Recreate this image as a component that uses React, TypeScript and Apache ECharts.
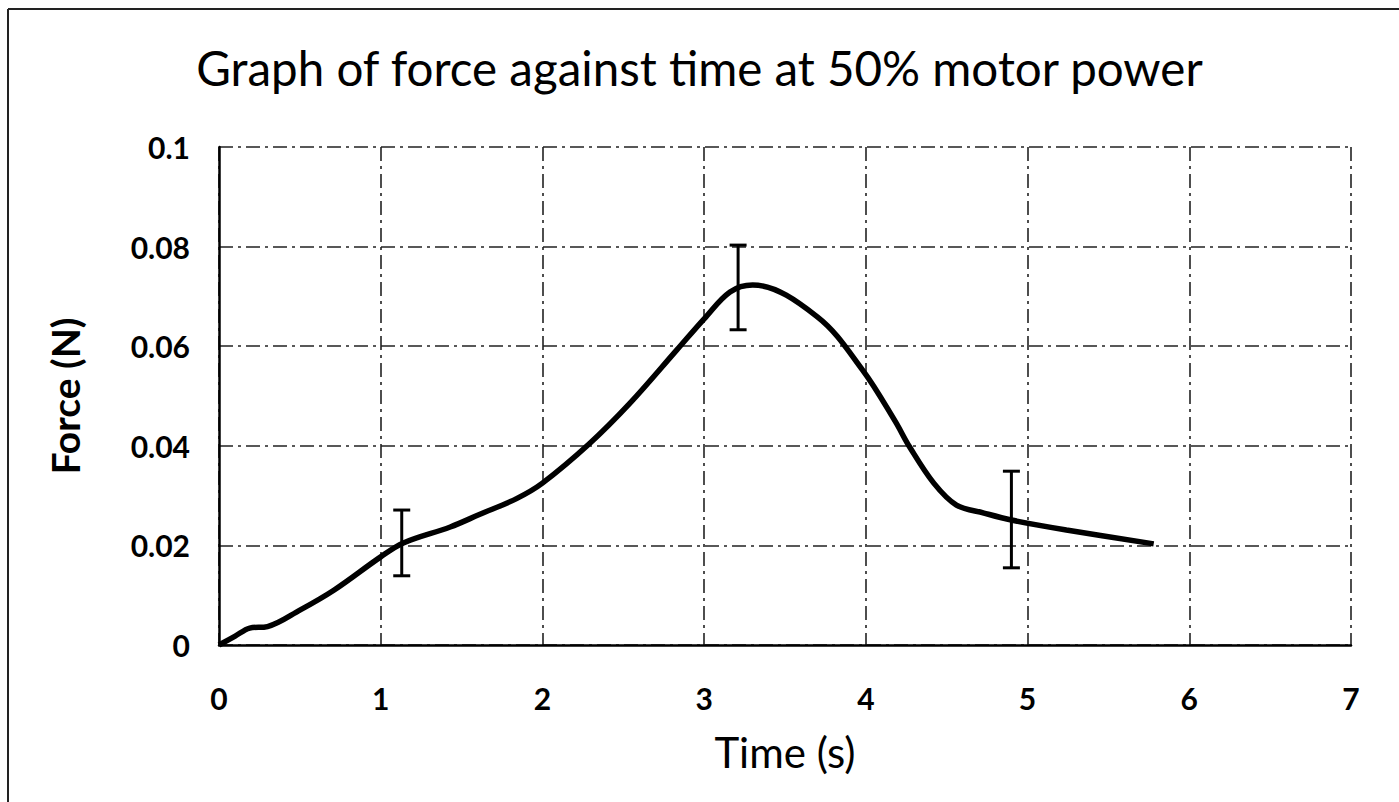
import React, { useEffect, useRef } from "react";
import * as echarts from "echarts";

const timeS = [0, 0.1, 0.19, 0.3, 0.5, 0.71, 1.0, 1.14, 1.43, 1.61, 1.84, 2.0, 2.29, 2.54, 2.83, 3.0, 3.16, 3.3, 3.7, 3.98, 4.18, 4.27, 4.42, 4.56, 4.73, 4.9, 5.24, 5.78];
const forceN = [0, 0.0018, 0.0034, 0.0037, 0.007, 0.011, 0.0177, 0.0205, 0.0237, 0.0262, 0.0294, 0.0325, 0.0404, 0.0485, 0.0592, 0.0655, 0.0709, 0.0723, 0.0659, 0.0552, 0.045, 0.0398, 0.0325, 0.0281, 0.0265, 0.0251, 0.0231, 0.0203];

const errTime = [1.13, 3.21, 4.9];
const errLow = [0.0139, 0.0633, 0.0155];
const errHigh = [0.0271, 0.0803, 0.0349];

const titleText = "Graph of force against time at 50% motor power";
const xName = "Time (s)";
const yName = "Force (N)";

export default function App() {
  const ref = useRef<HTMLDivElement>(null);
  useEffect(() => {
    if (!ref.current) return;
    const chart = echarts.init(ref.current, null, { renderer: "svg" });
    const gridLine = { color: "#222", width: 1.6, type: [14, 5, 3, 5] as any };
    const font = "Lato";
    chart.setOption({
      animation: false,
      backgroundColor: "#fff",
      title: {
        text: titleText,
        left: "center",
        top: 38,
        textStyle: { fontFamily: font, fontSize: 47.5, fontWeight: "normal", color: "#000" },
      },
      graphic: [
        { type: "line", shape: { x1: 8, y1: 802, x2: 8, y2: 9 }, style: { stroke: "#222", lineWidth: 2 } },
        { type: "line", shape: { x1: 8, y1: 9, x2: 1399, y2: 9 }, style: { stroke: "#222", lineWidth: 2 } },
      ],
      grid: { left: 219, right: 48, top: 147, bottom: 157 },
      xAxis: {
        type: "value",
        min: 0,
        max: 7,
        interval: 1,
        name: xName,
        nameLocation: "middle",
        nameGap: 86,
        nameTextStyle: { fontFamily: font, fontSize: 42, color: "#000" },
        axisLine: { show: true, onZero: false, lineStyle: { color: "#000", width: 2.5 } },
        axisTick: { show: false },
        axisLabel: { margin: 38, fontFamily: font, fontSize: 30, fontWeight: "bold", color: "#000" },
        splitLine: { show: true, lineStyle: gridLine },
      },
      yAxis: {
        type: "value",
        min: 0,
        max: 0.1,
        interval: 0.02,
        name: yName,
        nameLocation: "middle",
        nameGap: 135,
        nameTextStyle: { fontFamily: font, fontSize: 39, fontWeight: "bold", color: "#000" },
        axisLine: { show: true, onZero: false, lineStyle: { color: "#000", width: 2.5 } },
        axisTick: { show: false },
        axisLabel: {
          margin: 29,
          fontFamily: font,
          fontSize: 30,
          fontWeight: "bold",
          color: "#000",
          formatter: (v: number) => String(Math.round(v * 100) / 100),
        },
        splitLine: { show: true, lineStyle: gridLine },
      },
      series: [
        {
          type: "line",
          data: timeS.map((t, i) => [t, forceN[i]]),
          smooth: 0.35,
          symbol: "none",
          lineStyle: { color: "#000", width: 5.5 },
          z: 3,
        },
        {
          type: "custom",
          data: errTime.map((t, i) => [t, errLow[i], errHigh[i]]),
          z: 4,
          renderItem: (params: any, api: any) => {
            const lo = api.coord([api.value(0), api.value(1)]);
            const hi = api.coord([api.value(0), api.value(2)]);
            const w = 8.5;
            const st = { stroke: "#000", lineWidth: 3 };
            return {
              type: "group",
              children: [
                { type: "line", shape: { x1: lo[0], y1: lo[1], x2: hi[0], y2: hi[1] }, style: st },
                { type: "line", shape: { x1: lo[0] - w, y1: lo[1], x2: lo[0] + w, y2: lo[1] }, style: st },
                { type: "line", shape: { x1: hi[0] - w, y1: hi[1], x2: hi[0] + w, y2: hi[1] }, style: st },
              ],
            };
          },
        },
      ],
    });
    return () => chart.dispose();
  }, []);
  return <div ref={ref} style={{ position: "absolute", left: 0, top: 0, width: 1399, height: 802 }} />;
}
